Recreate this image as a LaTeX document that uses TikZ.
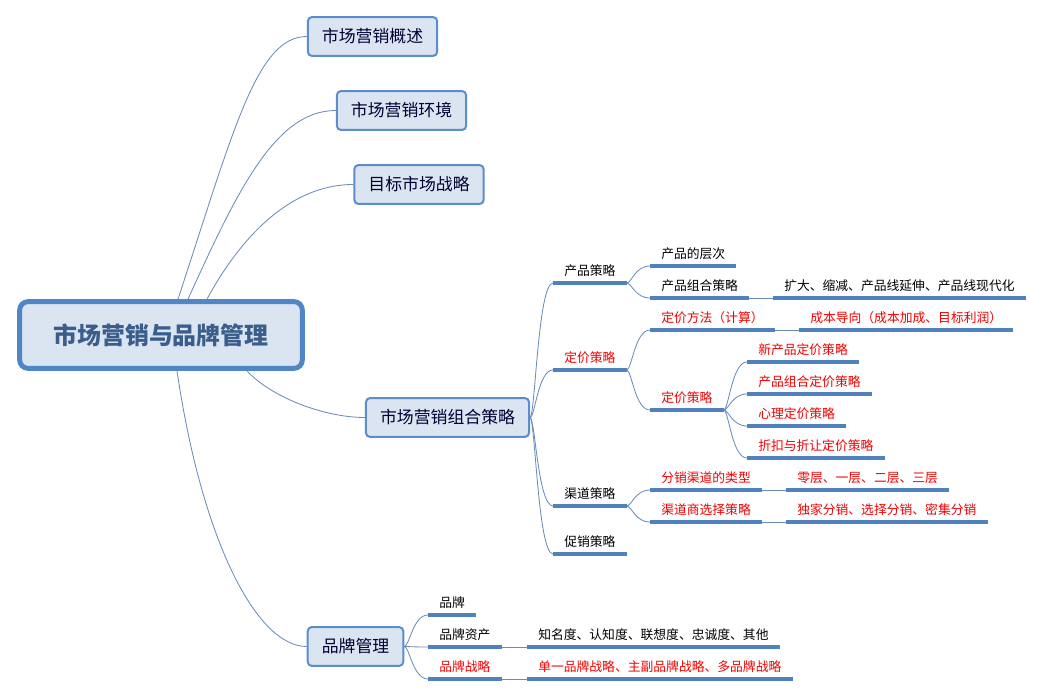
\documentclass[tikz,border=0pt]{standalone}
\usepackage{fontspec}
\setmainfont{Noto Sans CJK SC}
\usetikzlibrary{calc,backgrounds}

\definecolor{boxfill}{HTML}{DBE5F1}
\definecolor{boxline}{HTML}{5B8CCB}
\definecolor{rootline}{HTML}{4F86C6}
\definecolor{roottext}{HTML}{3A5D8C}
\definecolor{ulblue}{HTML}{4F81BD}
\definecolor{linkblue}{HTML}{6B8CB9}
\definecolor{hotred}{HTML}{F20000}

\tikzset{
  rootbox/.style={draw=rootline, line width=3.5pt, fill=boxfill, rounded corners=6pt,
    inner xsep=24pt, minimum height=47.5pt, text=roottext,
    font=\fontsize{17}{20}\selectfont\bfseries},
  mainbox/.style={draw=boxline, line width=1.4pt, fill=boxfill, rounded corners=3pt,
    inner xsep=10pt, minimum height=27.7pt, text=black!80!blue,
    font=\fontsize{12}{14}\selectfont},
  leaf/.style={anchor=south west, inner xsep=7.8pt, inner ysep=5.3pt,
    text height=7pt, text depth=0pt, font=\fontsize{9.1}{11}\selectfont},
  hot/.style={leaf, text=hotred},
  uline/.style={draw=ulblue, line width=2.2pt},
  link/.style={draw=linkblue, line width=0.6pt},
}

\begin{document}
\begin{tikzpicture}[x=0.025cm, y=-0.025cm]
  \useasboundingbox (0,0) rectangle (1052,696);

  % central topic and main branches
  \node[rootbox] (root) at (161,335) {市场营销与品牌管理};
  \node[mainbox] (ovw) at (372.5,36.5) {市场营销概述};
  \node[mainbox] (env) at (401.5,110.5) {市场营销环境};
  \node[mainbox] (tgt) at (419,184.5) {目标市场战略};
  \node[mainbox] (mix) at (447.5,417.5) {市场营销组合策略};
  \node[mainbox] (brand) at (355.5,646.5) {品牌管理};

  % marketing mix
  \node[leaf] (pc) at (553,283) {产品策略};
  \node[hot]  (pr) at (553,370) {定价策略};
  \node[leaf] (ch) at (553,506) {渠道策略};
  \node[leaf] (pm) at (553,554) {促销策略};

  \node[leaf] (pcl) at (650,266) {产品的层次};
  \node[leaf] (pcm) at (650,298) {产品组合策略};
  \node[leaf] (pcmx) at (773,298) {扩大、缩减、产品线延伸、产品线现代化};

  \node[hot] (prm) at (650,330) {定价方法（计算）};
  \node[hot] (prmx) at (799,330) {成本导向（成本加成、目标利润）};
  \node[hot] (prs) at (650,410) {定价策略};
  \node[hot] (prs1) at (747,362) {新产品定价策略};
  \node[hot] (prs2) at (747,394) {产品组合定价策略};
  \node[hot] (prs3) at (747,426) {心理定价策略};
  \node[hot] (prs4) at (747,458) {折扣与折让定价策略};

  \node[hot] (chk) at (650,490) {分销渠道的类型};
  \node[hot] (chkx) at (786,490) {零层、一层、二层、三层};
  \node[hot] (chs) at (650,522) {渠道商选择策略};
  \node[hot] (chsx) at (786,522) {独家分销、选择分销、密集分销};

  % brand
  \node[leaf] (bd) at (428,615) {品牌};
  \node[leaf] (ba) at (428,647) {品牌资产};
  \node[leaf] (bax) at (527,647) {知名度、认知度、联想度、忠诚度、其他};
  \node[hot]  (bs) at (428,679) {品牌战略};
  \node[hot]  (bsx) at (527,679) {单一品牌战略、主副品牌战略、多品牌战略};

  \foreach \n in {pc,pr,ch,pm,pcl,pcm,pcmx,prm,prmx,prs,prs1,prs2,prs3,prs4,
                  chk,chkx,chs,chsx,bd,ba,bax,bs,bsx}
    \draw[uline] (\n.south west) -- (\n.south east);

  \begin{scope}[on background layer]
    \draw[link] ($(root.north)+(17,0)$) .. controls +(56,-170) and +(-50,0) .. (ovw.west);
    \draw[link] ($(root.north)+(27,0)$) .. controls +(50,-110) and +(-60,0) .. (env.west);
    \draw[link] ($(root.north)+(46,0)$) .. controls +(27,-50) and +(-70,0) .. (tgt.west);
    \draw[link] ($(root.south)+(86,0)$) .. controls +(25,27) and +(-40,0) .. (mix.west);
    \draw[link] ($(root.south)+(16,0)$) .. controls +(25,170) and +(-50,0) .. (brand.west);
  \end{scope}

  \foreach \n in {pc,pr,ch,pm}
    \draw[link] (mix.east) .. controls +(5,0) and +(-15,0) .. (\n.south west);
  \foreach \n in {pcl,pcm}
    \draw[link] (pc.south east) .. controls +(5,0) and +(-15,0) .. (\n.south west);
  \foreach \n in {prm,prs}
    \draw[link] (pr.south east) .. controls +(5,0) and +(-15,0) .. (\n.south west);
  \foreach \n in {prs1,prs2,prs3,prs4}
    \draw[link] (prs.south east) .. controls +(5,0) and +(-15,0) .. (\n.south west);
  \foreach \n in {chk,chs}
    \draw[link] (ch.south east) .. controls +(5,0) and +(-15,0) .. (\n.south west);
  \foreach \n in {bd,ba,bs}
    \draw[link] (brand.east) .. controls +(5,0) and +(-15,0) .. (\n.south west);

  \draw[link] (pcm.south east) -- (pcmx.south west);
  \draw[link] (prm.south east) -- (prmx.south west);
  \draw[link] (chk.south east) -- (chkx.south west);
  \draw[link] (chs.south east) -- (chsx.south west);
  \draw[link] (ba.south east) -- (bax.south west);
  \draw[link] (bs.south east) -- (bsx.south west);
\end{tikzpicture}
\end{document}
